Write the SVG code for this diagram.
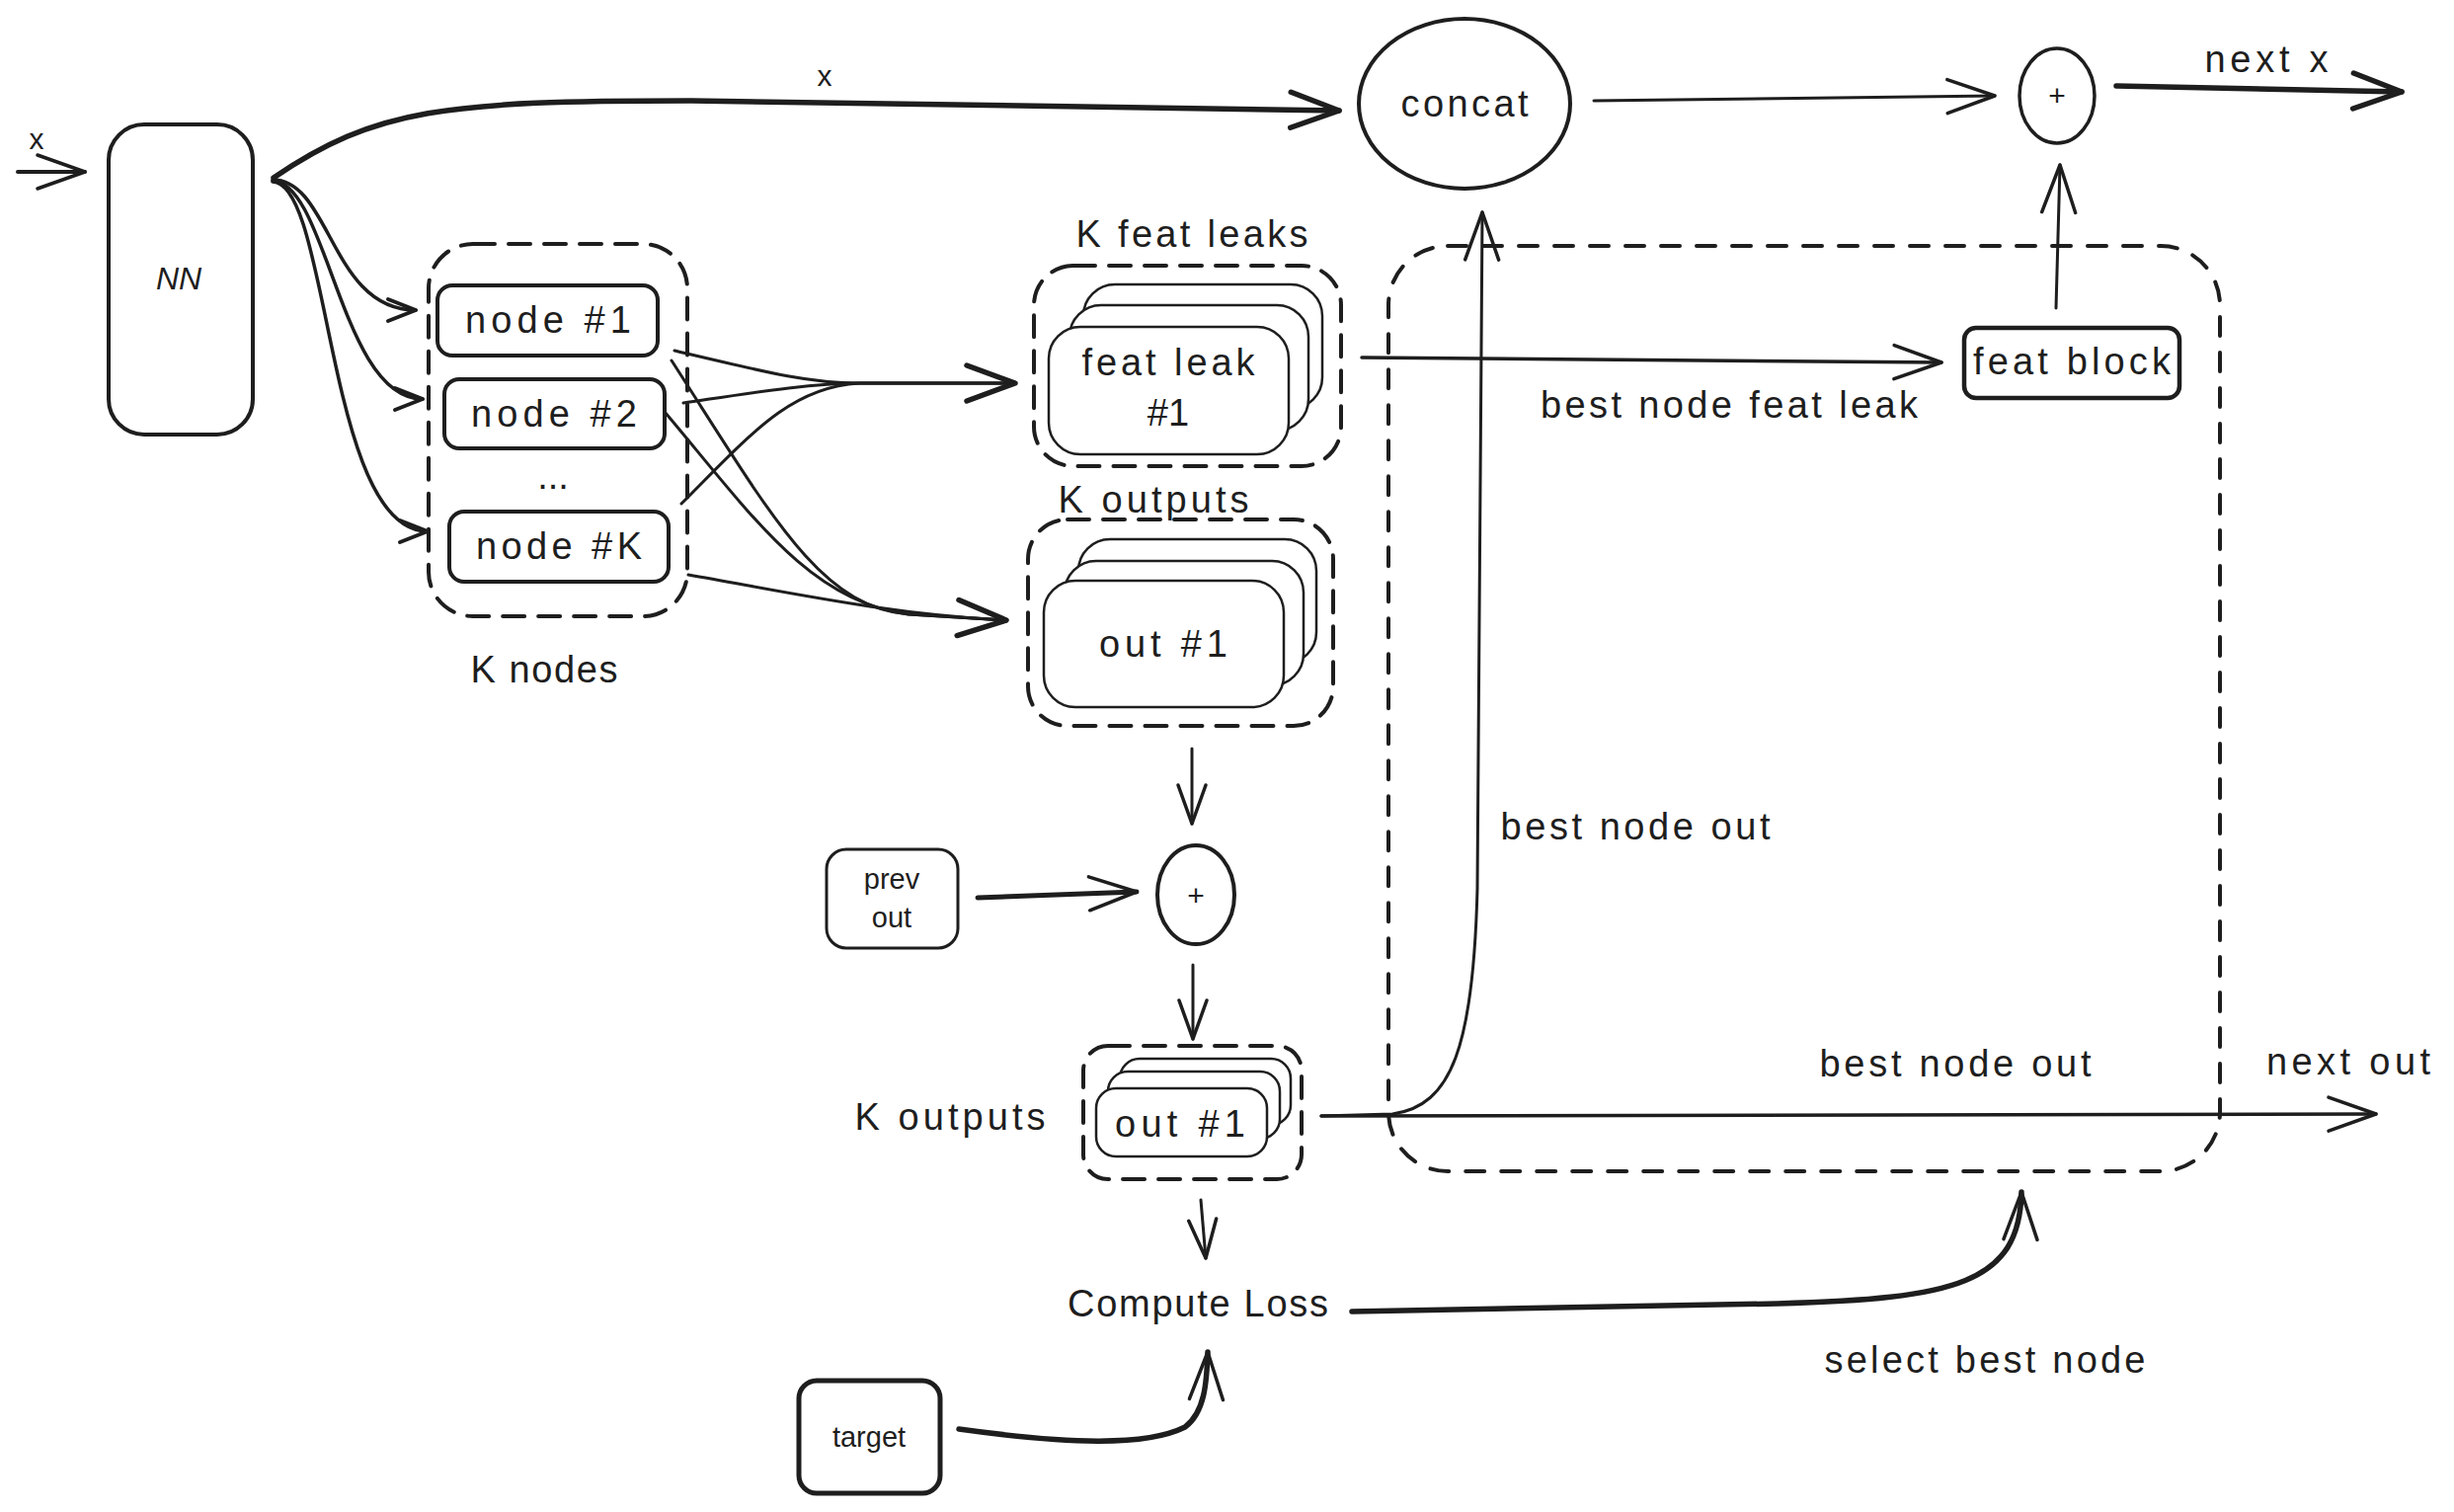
<svg xmlns="http://www.w3.org/2000/svg" width="2485" height="1531" viewBox="0 0 2485 1531">
<style>
.bg{fill:#ffffff}
.box{fill:#ffffff;stroke:#1e1e1e;stroke-width:4}
.thin{fill:#ffffff;stroke:#1e1e1e;stroke-width:2.5}
.grp{fill:none;stroke:#1e1e1e;stroke-width:4;stroke-dasharray:22 14;stroke-linecap:round}
.big{fill:none;stroke:#1e1e1e;stroke-width:4;stroke-dasharray:19 17;stroke-linecap:round}
.ln{fill:none;stroke:#1e1e1e;stroke-width:3;stroke-linecap:round;stroke-linejoin:round}
.lnT{fill:none;stroke:#1e1e1e;stroke-width:5.5;stroke-linecap:round;stroke-linejoin:round}
.t{font-family:"Liberation Sans","DejaVu Sans",sans-serif;fill:#1e1e1e;text-anchor:middle;dominant-baseline:central;font-size:38px}
.ts{font-size:29px}
.tx{font-size:30px}
</style>
<defs>
<marker id="ah" markerUnits="userSpaceOnUse" viewBox="-60 -30 70 60" refX="0" refY="0" markerWidth="70" markerHeight="60" orient="auto" overflow="visible"><path d="M-48,-17 L0,0 L-48,17" fill="none" stroke="#1e1e1e" stroke-width="3.5" stroke-linecap="round" stroke-linejoin="round"/></marker>
<marker id="ahT" markerUnits="userSpaceOnUse" viewBox="-60 -30 70 60" refX="0" refY="0" markerWidth="70" markerHeight="60" orient="auto" overflow="visible"><path d="M-49,-18 L0,0 L-49,18" fill="none" stroke="#1e1e1e" stroke-width="5.5" stroke-linecap="round" stroke-linejoin="round"/></marker>
<marker id="ahS" markerUnits="userSpaceOnUse" viewBox="-60 -30 70 60" refX="0" refY="0" markerWidth="70" markerHeight="60" orient="auto" overflow="visible"><path d="M-39,-14 L0,0 L-39,14" fill="none" stroke="#1e1e1e" stroke-width="3.5" stroke-linecap="round" stroke-linejoin="round"/></marker>
<marker id="ahX" markerUnits="userSpaceOnUse" viewBox="-60 -30 70 60" refX="0" refY="0" markerWidth="70" markerHeight="60" orient="auto" overflow="visible"><path d="M-28,-11 L0,0 L-28,11" fill="none" stroke="#1e1e1e" stroke-width="4" stroke-linecap="round" stroke-linejoin="round"/></marker>
</defs>
<rect class="bg" x="0" y="0" width="2485" height="1531"/>

<g id="group-k-nodes">
<rect class="grp" x="434" y="247" width="262" height="377" rx="45"/>
<text class="t" x="551" y="678" textLength="149">K nodes</text>
</g>
<g id="group-feat-leaks">
<rect class="grp" x="1047" y="269" width="311" height="203" rx="40"/>
<text class="t" x="1207" y="237" textLength="235">K feat leaks</text>
</g>
<g id="group-outputs">
<rect class="grp" x="1041" y="526" width="309" height="209" rx="40"/>
<text class="t" x="1168" y="506" textLength="193">K outputs</text>
</g>
<g id="group-outputs-sum">
<rect class="grp" x="1097" y="1059" width="221" height="135" rx="25"/>
<text class="t" x="962" y="1131" textLength="193">K outputs</text>
</g>
<g id="group-best">
<rect class="big" x="1406" y="249" width="842" height="937" rx="60"/>
</g>

<g id="connectors">
<path class="ln" d="M18 174 L86 174" marker-end="url(#ah)" style="stroke-width:4"/>
<path class="lnT" d="M277 180 C380 110, 450 102, 700 102 L1356 112" marker-end="url(#ahT)"/>
<path class="ln" d="M276 182 C335 182, 335 314, 421 314" marker-end="url(#ahX)" style="stroke-width:3.5"/>
<path class="ln" d="M276 183 C332 185, 345 404, 428 404" marker-end="url(#ahX)" style="stroke-width:3.5"/>
<path class="ln" d="M276 184 C335 185, 330 538, 433 538" marker-end="url(#ahX)" style="stroke-width:3.5"/>
<path class="ln" d="M683 355 C780 378, 820 388, 870 388 L1028 388"/>
<path class="ln" d="M692 408 C760 398, 820 388, 870 388 L1028 388"/>
<path class="ln" d="M690 510 C760 440, 800 392, 870 388 L1028 388" marker-end="url(#ahT)"/>
<path class="ln" d="M680 365 C780 520, 830 615, 920 622 L1019 628"/>
<path class="ln" d="M673 417 C760 520, 820 610, 920 622 L1019 628"/>
<path class="ln" d="M697 582 C800 600, 900 622, 1019 628" marker-end="url(#ahT)"/>
<path class="ln" d="M1614 102 L2020 97" marker-end="url(#ah)"/>
<path class="lnT" d="M2143 87 L2432 93" marker-end="url(#ahT)"/>
<path class="ln" d="M2082 312 L2086 167" marker-end="url(#ah)"/>
<path class="ln" d="M1379 362 L1966 367" marker-end="url(#ah)" style="stroke-width:3.5"/>
<path class="ln" d="M1338 1130 L1410 1128 C1470 1120, 1492 1060, 1496 900 L1501 215" marker-end="url(#ah)"/>
<path class="ln" d="M1338 1130 L2406 1128" marker-end="url(#ah)" style="stroke-width:3.5"/>
<path class="ln" d="M1207 758 L1207 834" marker-end="url(#ahS)"/>
<path class="lnT" d="M990 909 L1151 903" marker-end="url(#ah)" style="stroke-width:5"/>
<path class="ln" d="M1208 977 L1208 1052" marker-end="url(#ahS)"/>
<path class="ln" d="M1216 1215 L1221 1274" marker-end="url(#ahS)"/>
<path class="lnT" d="M1369 1328 L1800 1320 C1980 1315, 2045 1300, 2047 1207" marker-end="url(#ah)"/>
<path class="lnT" d="M971 1447 C1080 1462, 1160 1465, 1200 1445 C1220 1430, 1222 1400, 1223 1369" marker-end="url(#ah)"/>
<text class="t tx" x="37" y="140">x</text>
<text class="t tx" x="835" y="76">x</text>
<text class="t" x="2295" y="60" textLength="125">next x</text>
<text class="t" x="1751" y="410" textLength="382">best node feat leak</text>
<text class="t" x="1656" y="837" textLength="273">best node out</text>
<text class="t" x="1980" y="1077" textLength="275">best node out</text>
<text class="t" x="2378" y="1075" textLength="166">next out</text>
<text class="t" x="2010" y="1377" textLength="325">select best node</text>
</g>

<g id="node-nn">
<rect class="box" x="110" y="126" width="146" height="314" rx="36"/>
<text class="t" x="181" y="282" style="font-size:32px;font-style:italic">NN</text>
</g>
<g id="node-1">
<rect class="box" x="443" y="289" width="223" height="71" rx="15"/>
<text class="t" x="555" y="324" textLength="168">node  #1</text>
</g>
<g id="node-2">
<rect class="box" x="450" y="384" width="223" height="70" rx="15"/>
<text class="t" x="561" y="419" textLength="168">node  #2</text>
</g>
<g id="node-dots">
<text class="t" x="560" y="482">...</text>
</g>
<g id="node-k">
<rect class="box" x="455" y="518" width="222" height="71" rx="15"/>
<text class="t" x="566" y="553" textLength="168">node  #K</text>
</g>
<g id="node-feat-leak">
<rect class="thin" x="1097" y="288" width="242" height="126" rx="32"/>
<rect class="thin" x="1083" y="309" width="242" height="127" rx="32"/>
<rect class="thin" x="1062" y="331" width="243" height="129" rx="32"/>
<text class="t" x="1183" y="367" textLength="175">feat leak</text>
<text class="t" x="1183" y="418">#1</text>
</g>
<g id="node-outputs">
<rect class="thin" x="1092" y="546" width="241" height="126" rx="32"/>
<rect class="thin" x="1078" y="568" width="242" height="126" rx="32"/>
<rect class="thin" x="1057" y="588" width="243" height="128" rx="32"/>
<text class="t" x="1178" y="652" textLength="130">out #1</text>
</g>
<g id="node-concat">
<ellipse class="box" cx="1483" cy="105" rx="107" ry="86"/>
<text class="t" x="1483" y="105" textLength="129">concat</text>
</g>
<g id="node-plus-top">
<ellipse class="box" cx="2083" cy="97" rx="38" ry="48" style="stroke-width:3.5"/>
<text class="t tx" x="2083" y="96">+</text>
</g>
<g id="node-feat-block">
<rect class="box" x="1989" y="332" width="218" height="71" rx="12" style="stroke-width:4.5"/>
<text class="t" x="2098" y="366" textLength="200">feat block</text>
</g>
<g id="node-prev-out">
<rect class="box" x="837" y="860" width="133" height="100" rx="20" style="stroke-width:3"/>
<text class="t ts" x="903" y="890">prev</text>
<text class="t ts" x="903" y="929">out</text>
</g>
<g id="node-plus-mid">
<ellipse class="box" cx="1211" cy="906" rx="39" ry="50"/>
<text class="t tx" x="1211" y="906">+</text>
</g>
<g id="node-outputs-sum">
<rect class="thin" x="1134" y="1072" width="173" height="67" rx="20"/>
<rect class="thin" x="1122" y="1085" width="174" height="68" rx="20"/>
<rect class="thin" x="1110" y="1102" width="173" height="69" rx="20"/>
<text class="t" x="1195" y="1138" textLength="132">out #1</text>
</g>
<g id="node-compute-loss">
<text class="t" x="1213" y="1320" textLength="264">Compute Loss</text>
</g>
<g id="node-target">
<rect class="box" x="809" y="1398" width="143" height="114" rx="18" style="stroke-width:5"/>
<text class="t ts" x="880" y="1455">target</text>
</g>
</svg>
